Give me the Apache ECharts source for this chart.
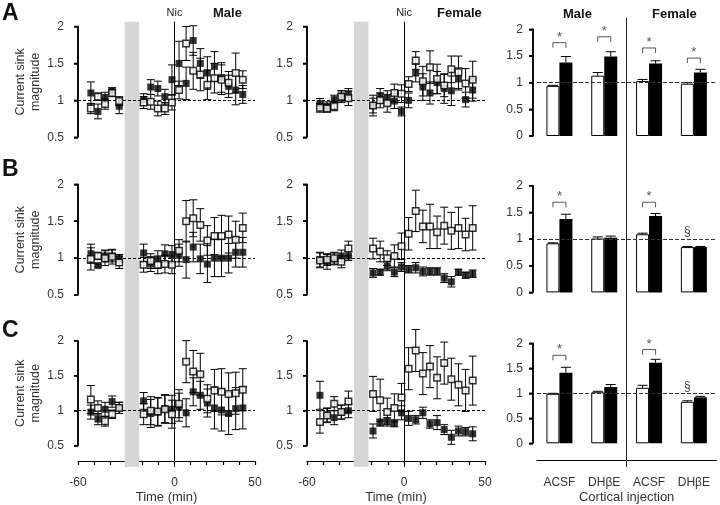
<!DOCTYPE html>
<html><head><meta charset="utf-8">
<script src="https://cdn.jsdelivr.net/npm/echarts@6/dist/echarts.min.js"></script>
<style>html,body{margin:0;padding:0;background:#fff}#c{width:720px;height:505px}</style>
</head><body><div id="c"></div>
<script>
// ---------------- DATA ----------------
const times = [-52, -47.6, -43.2, -38.8, -34.4, -19.2, -14.8, -10.4, -6, -1.6, 2.8, 7.2, 11.6, 16, 20.4, 24.8, 29.2, 33.6, 38, 42.4];
const xTickLabels = [-60, 0, 50];
const timeYTicks = [0.5, 1, 1.5, 2];
const barYTicks = [0, 0.5, 1, 1.5, 2];
const bandStart = -31, bandEnd = -22;

// Row A
const A_male_fill = [1.10, 0.85, 1.04, 1.13, 0.92, 1.01, 1.18, 1.16, 1.05, 1.28, 1.50, 1.23, 1.81, 1.50, 1.37, 1.46, 1.31, 1.19, 1.14, 1.08];
const A_male_fillErr = [0.15, 0.10, 0.07, 0.04, 0.10, 0.08, 0.10, 0.10, 0.10, 0.20, 0.30, 0.22, 0.20, 0.20, 0.22, 0.20, 0.20, 0.15, 0.20, 0.12];
const A_male_open = [0.89, 1.05, 0.95, 1.10, 0.99, 0.97, 0.98, 0.89, 0.89, 0.97, 1.14, 1.77, 1.40, 1.35, 1.21, 1.30, 1.28, 1.24, 1.37, 1.28];
const A_male_openErr = [0.07, 0.05, 0.07, 0.05, 0.06, 0.08, 0.10, 0.10, 0.08, 0.10, 0.12, 0.23, 0.25, 0.22, 0.20, 0.20, 0.20, 0.15, 0.27, 0.12];
const A_female_fill = [0.955, 0.92, 1.01, 1.06, 1.08, 0.93, 1.06, 1.03, 0.99, 0.85, 1.00, 1.37, 1.18, 1.10, 1.24, 1.16, 1.13, 1.29, 1.01, 1.14];
const A_female_fillErr = [0.07, 0.06, 0.06, 0.07, 0.08, 0.14, 0.10, 0.10, 0.10, 0.06, 0.10, 0.12, 0.18, 0.15, 0.15, 0.20, 0.20, 0.15, 0.10, 0.15];
const A_female_open = [0.90, 0.89, 0.92, 1.05, 1.03, 0.93, 1.00, 0.96, 1.10, 1.09, 1.22, 1.54, 1.26, 1.45, 1.29, 1.20, 1.42, 1.38, 1.23, 1.28];
const A_female_openErr = [0.06, 0.05, 0.06, 0.08, 0.10, 0.10, 0.10, 0.12, 0.12, 0.12, 0.10, 0.12, 0.20, 0.22, 0.20, 0.15, 0.18, 0.22, 0.20, 0.25];
// Row B
const B_male_fill = [1.06, 0.90, 1.03, 1.03, 1.00, 1.07, 0.92, 0.98, 1.06, 1.05, 1.04, 0.98, 1.15, 0.99, 0.92, 1.00, 1.00, 1.00, 1.08, 1.08];
const B_male_fillErr = [0.13, 0.02, 0.08, 0.08, 0.05, 0.12, 0.10, 0.12, 0.12, 0.12, 0.15, 0.25, 0.20, 0.20, 0.25, 0.25, 0.25, 0.20, 0.20, 0.20];
const B_male_open = [0.99, 1.03, 1.00, 1.02, 0.94, 0.91, 0.96, 0.91, 0.92, 0.91, 1.10, 1.50, 1.54, 1.45, 1.24, 1.30, 1.30, 1.32, 1.25, 1.41];
const B_male_openErr = [0.15, 0.05, 0.10, 0.10, 0.08, 0.10, 0.10, 0.12, 0.12, 0.12, 0.15, 0.28, 0.25, 0.22, 0.20, 0.25, 0.28, 0.25, 0.25, 0.20];
const B_female_fill = [0.98, 0.95, 0.99, 1.03, 1.03, 0.80, 0.81, 0.89, 0.81, 0.88, 0.85, 0.87, 0.82, 0.82, 0.82, 0.73, 0.68, 0.81, 0.77, 0.79];
const B_female_fillErr = [0.10, 0.10, 0.08, 0.08, 0.06, 0.06, 0.04, 0.06, 0.06, 0.06, 0.05, 0.07, 0.06, 0.05, 0.05, 0.06, 0.07, 0.04, 0.04, 0.05];
const B_female_open = [0.97, 0.98, 1.00, 0.95, 1.13, 1.13, 1.09, 1.00, 1.03, 1.16, 1.33, 1.64, 1.43, 1.43, 1.35, 1.44, 1.37, 1.41, 1.32, 1.41];
const B_female_openErr = [0.10, 0.08, 0.08, 0.08, 0.10, 0.14, 0.14, 0.10, 0.15, 0.18, 0.22, 0.28, 0.22, 0.30, 0.22, 0.25, 0.25, 0.28, 0.22, 0.30];
// Row C
const C_male_fill = [0.98, 0.88, 1.02, 1.13, 1.04, 1.14, 0.96, 0.98, 1.03, 1.02, 1.05, 0.97, 1.27, 1.22, 1.11, 1.04, 1.01, 0.96, 1.03, 1.04];
const C_male_fillErr = [0.10, 0.08, 0.10, 0.08, 0.08, 0.12, 0.20, 0.20, 0.20, 0.20, 0.20, 0.20, 0.20, 0.20, 0.20, 0.30, 0.30, 0.30, 0.30, 0.30];
const C_male_open = [1.16, 1.04, 0.85, 0.95, 1.04, 0.95, 1.00, 0.99, 1.02, 0.95, 1.10, 1.70, 1.56, 1.52, 1.17, 1.29, 1.27, 1.24, 1.25, 1.30];
const C_male_openErr = [0.20, 0.10, 0.07, 0.06, 0.08, 0.15, 0.20, 0.20, 0.20, 0.20, 0.20, 0.30, 0.30, 0.30, 0.20, 0.30, 0.33, 0.30, 0.30, 0.30];
const C_female_fill = [1.22, 0.94, 0.90, 0.98, 1.00, 0.71, 0.83, 0.85, 0.82, 0.97, 0.89, 0.87, 0.97, 0.81, 0.83, 0.73, 0.62, 0.71, 0.70, 0.67];
const C_female_fillErr = [0.20, 0.10, 0.10, 0.10, 0.10, 0.10, 0.05, 0.05, 0.05, 0.10, 0.10, 0.06, 0.08, 0.06, 0.10, 0.07, 0.10, 0.07, 0.06, 0.10];
const C_female_open = [0.84, 0.93, 1.10, 0.98, 1.13, 1.24, 1.15, 0.98, 1.04, 1.19, 1.60, 1.86, 1.53, 1.63, 1.47, 1.68, 1.45, 1.37, 1.29, 1.43];
const C_female_openErr = [0.16, 0.10, 0.10, 0.10, 0.15, 0.25, 0.30, 0.20, 0.20, 0.20, 0.30, 0.30, 0.30, 0.30, 0.30, 0.30, 0.30, 0.30, 0.30, 0.35];

// Bar panels
const barCats = ['ACSF', 'DHβE', 'ACSF', 'DHβE'];
const barA_white = [0.94, 1.13, 1.03, 0.98];
const barA_whiteErr = [0.01, 0.06, 0.03, 0.02];
const barA_black = [1.38, 1.49, 1.36, 1.19];
const barA_blackErr = [0.11, 0.09, 0.05, 0.06];
const barB_white = [0.92, 1.01, 1.09, 0.85];
const barB_whiteErr = [0.01, 0.03, 0.02, 0.01];
const barB_black = [1.375, 1.025, 1.43, 0.85];
const barB_blackErr = [0.09, 0.03, 0.05, 0.01];
const barC_white = [0.99, 1.02, 1.11, 0.83];
const barC_whiteErr = [0.01, 0.02, 0.05, 0.02];
const barC_black = [1.41, 1.125, 1.61, 0.92];
const barC_blackErr = [0.11, 0.05, 0.07, 0.02];
const barA_star = [1.75, 1.86, 1.65, 1.46];
const barB_star = [1.69, null, 1.69, null];
const barC_star = [1.76, null, 1.875, null];
const barB_sect = [null, null, null, 1.14];
const barC_sect = [null, null, null, 1.14];

// ---------------- LAYOUT ----------------
const FONT = '"Liberation Sans", Arial, sans-serif';
const rowTop = [26.5, 184.3, 340.7], rowH = 110.8;
const colLeft = [78, 307], colW = [177, 178];
const barTop = [29.3, 185.7, 343.3], barH = 106.7;
const barLeft = 537, barWidthGrid = 179.3, BW = 13, barAxisOffset = 4;
const ovTop = 21.7, ovBottom = 467;
const AXW = 1.5;

const timePanels = [
  {row:0,col:0,f:A_male_fill,fe:A_male_fillErr,o:A_male_open,oe:A_male_openErr},
  {row:0,col:1,f:A_female_fill,fe:A_female_fillErr,o:A_female_open,oe:A_female_openErr},
  {row:1,col:0,f:B_male_fill,fe:B_male_fillErr,o:B_male_open,oe:B_male_openErr},
  {row:1,col:1,f:B_female_fill,fe:B_female_fillErr,o:B_female_open,oe:B_female_openErr},
  {row:2,col:0,f:C_male_fill,fe:C_male_fillErr,o:C_male_open,oe:C_male_openErr},
  {row:2,col:1,f:C_female_fill,fe:C_female_fillErr,o:C_female_open,oe:C_female_openErr}
];
const barPanels = [
  {row:0,w:barA_white,we:barA_whiteErr,b:barA_black,be:barA_blackErr,star:barA_star,sect:null},
  {row:1,w:barB_white,we:barB_whiteErr,b:barB_black,be:barB_blackErr,star:barB_star,sect:barB_sect},
  {row:2,w:barC_white,we:barC_whiteErr,b:barC_black,be:barC_blackErr,star:barC_star,sect:barC_sect}
];

const grids = [], xAxes = [], yAxes = [], series = [];
const black = '#000', txt = '#333';

function errItem(params, api) {
  const x = api.value(0), m = api.value(1), e = api.value(2);
  const t = api.coord([x, m + e]), b = api.coord([x, m - e]);
  const cw = 4, st = {stroke: black, lineWidth: 1};
  return {type: 'group', children: [
    {type: 'line', shape: {x1: t[0], y1: t[1], x2: b[0], y2: b[1]}, style: st},
    {type: 'line', shape: {x1: t[0] - cw, y1: t[1], x2: t[0] + cw, y2: t[1]}, style: st},
    {type: 'line', shape: {x1: b[0] - cw, y1: b[1], x2: b[0] + cw, y2: b[1]}, style: st}
  ]};
}

timePanels.forEach(p => {
  const gi = grids.length;
  grids.push({left: colLeft[p.col], top: rowTop[p.row], width: colW[p.col], height: rowH});
  const showX = p.row === 2;
  xAxes.push({gridIndex: gi, type: 'value', min: -60, max: 50, interval: 10, show: showX, offset: 15.3,
    axisLine: {show: true, onZero: false, lineStyle: {color: black, width: 1.2}},
    axisTick: {show: true, length: 4, lineStyle: {color: black, width: 1.2}},
    axisLabel: {fontSize: 12, color: txt, margin: 16, fontFamily: FONT,
      formatter: v => xTickLabels.indexOf(v) >= 0 ? String(v) : ''},
    splitLine: {show: false},
    name: showX ? 'Time (min)' : '', nameLocation: 'middle', nameGap: 30,
    nameTextStyle: {fontSize: 13, color: txt, fontFamily: FONT}});
  yAxes.push({gridIndex: gi, type: 'value', position: 'left', min: 0.5, max: 2, interval: 0.5,
    axisLine: {show: true, onZero: false, lineStyle: {color: black, width: AXW}},
    axisTick: {show: true, length: 4, lineStyle: {color: black, width: AXW}},
    axisLabel: {fontSize: 12, color: txt, margin: 14, fontFamily: FONT},
    splitLine: {show: false},
    name: p.col === 0 ? 'Current sink\nmagnitude' : '', nameLocation: 'middle', nameGap: 30,
    nameTextStyle: {fontSize: 12.5, color: txt, lineHeight: 15, fontFamily: FONT}});
  series.push({type: 'custom', xAxisIndex: gi, yAxisIndex: gi, z: 3, silent: true,
    data: times.map((t, i) => [t, p.f[i], p.fe[i]]), renderItem: errItem, encode: {x: 0, y: 1},
    markLine: {silent: true, symbol: 'none', label: {show: false},
      lineStyle: {color: black, width: 1, type: [3, 2]}, data: [{yAxis: 1}]}});
  series.push({type: 'custom', xAxisIndex: gi, yAxisIndex: gi, z: 3, silent: true,
    data: times.map((t, i) => [t, p.o[i], p.oe[i]]), renderItem: errItem, encode: {x: 0, y: 1}});
  series.push({type: 'scatter', xAxisIndex: gi, yAxisIndex: gi, z: 4, silent: true,
    symbol: 'rect', symbolSize: 7, itemStyle: {color: black},
    data: times.map((t, i) => [t, p.f[i]])});
  series.push({type: 'scatter', xAxisIndex: gi, yAxisIndex: gi, z: 5, silent: true,
    symbol: 'rect', symbolSize: 6.5, itemStyle: {color: '#fff', borderColor: black, borderWidth: 1.5},
    data: times.map((t, i) => [t, p.o[i]])});
});

function barErr(dx) {
  return function (params, api) {
    const i = api.value(0), m = api.value(1), e = api.value(2);
    const b = api.coord([i, m]), t = api.coord([i, m + e]);
    const x = b[0] + dx, cw = 5, st = {stroke: black, lineWidth: 1};
    return {type: 'group', children: [
      {type: 'line', shape: {x1: x, y1: b[1], x2: x, y2: t[1]}, style: st},
      {type: 'line', shape: {x1: x - cw, y1: t[1], x2: x + cw, y2: t[1]}, style: st}
    ]};
  };
}
function starItem(params, api) {
  const i = api.value(0), h = api.value(1);
  const p = api.coord([i, h]);
  const x1 = p[0] - BW / 2, x2 = p[0] + BW / 2, y = p[1];
  const st = {stroke: '#555', lineWidth: 1, fill: null};
  return {type: 'group', children: [
    {type: 'polyline', shape: {points: [[x1, y + 5], [x1, y], [x2, y], [x2, y + 5]]}, style: st},
    {type: 'text', style: {text: '*', x: p[0], y: y + 1, align: 'center', verticalAlign: 'bottom',
      fontSize: 13, fill: '#555', fontFamily: FONT}}
  ]};
}
function sectItem(params, api) {
  const i = api.value(0), h = api.value(1);
  const p = api.coord([i, h]);
  return {type: 'text', style: {text: '§', x: p[0] - BW / 2, y: p[1], align: 'center', verticalAlign: 'middle',
    fontSize: 12, fill: '#444', fontFamily: FONT}};
}

barPanels.forEach(p => {
  const gi = grids.length;
  grids.push({left: barLeft, top: barTop[p.row], width: barWidthGrid, height: barH});
  const showX = p.row === 2;
  xAxes.push({gridIndex: gi, type: 'category', data: barCats, show: showX, offset: 16.7,
    axisLine: {show: true, onZero: false, lineStyle: {color: black, width: 1.2}}, axisTick: {show: false},
    axisLabel: {fontSize: 12, color: txt, margin: 17, fontFamily: FONT},
    name: showX ? 'Cortical injection' : '', nameLocation: 'middle', nameGap: 31,
    nameTextStyle: {fontSize: 13, color: txt, fontFamily: FONT}});
  yAxes.push({gridIndex: gi, type: 'value', min: 0, max: 2, interval: 0.5, offset: barAxisOffset,
    axisLine: {show: true, onZero: false, lineStyle: {color: black, width: AXW}},
    axisTick: {show: true, length: 4, lineStyle: {color: black, width: AXW}},
    axisLabel: {fontSize: 12, color: txt, margin: 10, fontFamily: FONT},
    splitLine: {show: false}});
  series.push({type: 'bar', xAxisIndex: gi, yAxisIndex: gi, z: 2, silent: true, barWidth: BW, barGap: '0%',
    itemStyle: {color: '#fff', borderColor: black, borderWidth: 1}, data: p.w});
  series.push({type: 'bar', xAxisIndex: gi, yAxisIndex: gi, z: 2, silent: true, barWidth: BW, barGap: '0%',
    itemStyle: {color: black}, data: p.b});
  series.push({type: 'custom', xAxisIndex: gi, yAxisIndex: gi, z: 4, silent: true,
    data: p.w.map((m, i) => [i, m, p.we[i]]), renderItem: barErr(-BW / 2), encode: {x: 0, y: 1},
    markLine: {silent: true, symbol: 'none', label: {show: false},
      lineStyle: {color: '#333', width: 1, type: [4, 2]}, data: [{yAxis: 1}]}});
  series.push({type: 'custom', xAxisIndex: gi, yAxisIndex: gi, z: 4, silent: true,
    data: p.b.map((m, i) => [i, m, p.be[i]]), renderItem: barErr(BW / 2), encode: {x: 0, y: 1}});
  series.push({type: 'custom', xAxisIndex: gi, yAxisIndex: gi, z: 5, silent: true,
    data: p.star.map((h, i) => [i, h]).filter(d => d[1] !== null), renderItem: starItem, encode: {x: 0, y: 1}});
  if (p.sect) {
    series.push({type: 'custom', xAxisIndex: gi, yAxisIndex: gi, z: 5, silent: true,
      data: p.sect.map((h, i) => [i, h]).filter(d => d[1] !== null), renderItem: sectItem, encode: {x: 0, y: 1}});
  }
});

// overlay grids: grey band + Nic line for time columns, divider for bar column
[0, 1].forEach(c => {
  const gi = grids.length;
  grids.push({left: colLeft[c], top: ovTop, width: colW[c], height: ovBottom - ovTop});
  xAxes.push({gridIndex: gi, type: 'value', min: -60, max: 50, show: false});
  yAxes.push({gridIndex: gi, type: 'value', min: 0, max: 1, show: false});
  series.push({type: 'line', xAxisIndex: gi, yAxisIndex: gi, data: [], z: 0, silent: true,
    markArea: {silent: true, itemStyle: {color: '#d6d6d6', opacity: 1}, data: [[{xAxis: bandStart}, {xAxis: bandEnd}]]},
    markLine: {silent: true, symbol: 'none', lineStyle: {color: black, width: 1, type: 'solid'},
      label: {show: true, position: 'end', formatter: 'Nic', fontSize: 11, color: '#222', distance: 3, fontFamily: FONT},
      data: [{xAxis: 0}]}});
});
{
  const gi = grids.length;
  grids.push({left: barLeft, top: 18, width: barWidthGrid, height: ovBottom - 18});
  xAxes.push({gridIndex: gi, type: 'value', min: 0, max: 4, show: false});
  yAxes.push({gridIndex: gi, type: 'value', min: 0, max: 1, show: false});
  series.push({type: 'line', xAxisIndex: gi, yAxisIndex: gi, data: [], z: 0, silent: true,
    markLine: {silent: true, symbol: 'none', lineStyle: {color: '#222', width: 1, type: 'solid'},
      label: {show: false}, data: [{xAxis: 2}]}});
}

const T = (text, left, top, size) => ({text, left, top, padding: 0,
  textStyle: {fontSize: size, fontWeight: 'bold', color: '#111', fontFamily: FONT}});

const option = {
  animation: false,
  textStyle: {fontFamily: FONT},
  title: [
    T('A', 2, 2, 23), T('B', 2, 158, 23), T('C', 2, 319, 23),
    T('Male', 213, 7, 13), T('Female', 437, 7, 13),
    T('Male', 563, 8, 13), T('Female', 652, 8, 13)
  ],
  grid: grids, xAxis: xAxes, yAxis: yAxes, series: series
};
const chart = echarts.init(document.getElementById('c'));
chart.setOption(option);

// y-axis lines and outward ticks, placed through each grid's own scale (wide enough to survive resampling)
const axisElems = [];
function addYAxis(gi, x0, ticks, halfBand, shift) {
  const pts = ticks.map(v => chart.convertToPixel({gridIndex: gi}, [x0, v]));
  let x = pts[0][0] - shift;
  if (halfBand) {
    const q = chart.convertToPixel({gridIndex: gi}, [x0 + 1, ticks[0]]);
    x -= (q[0] - pts[0][0]) / 2;
  }
  x = Math.round(x);
  const st = {stroke: black, lineWidth: AXW};
  axisElems.push({type: 'line', z: 100, silent: true,
    shape: {x1: x, y1: pts[0][1], x2: x, y2: pts[pts.length - 1][1]}, style: st});
  pts.forEach(p => axisElems.push({type: 'line', z: 100, silent: true,
    shape: {x1: x - 4, y1: p[1], x2: x, y2: p[1]}, style: st}));
}
try {
  timePanels.forEach((p, gi) => addYAxis(gi, -60, timeYTicks, false, 0));
  barPanels.forEach((p, k) => addYAxis(timePanels.length + k, 0, barYTicks, true, barAxisOffset));
  chart.setOption({graphic: {elements: axisElems}});
} catch (e) { /* axes still drawn by the y-axis components */ }
</script></body></html>
